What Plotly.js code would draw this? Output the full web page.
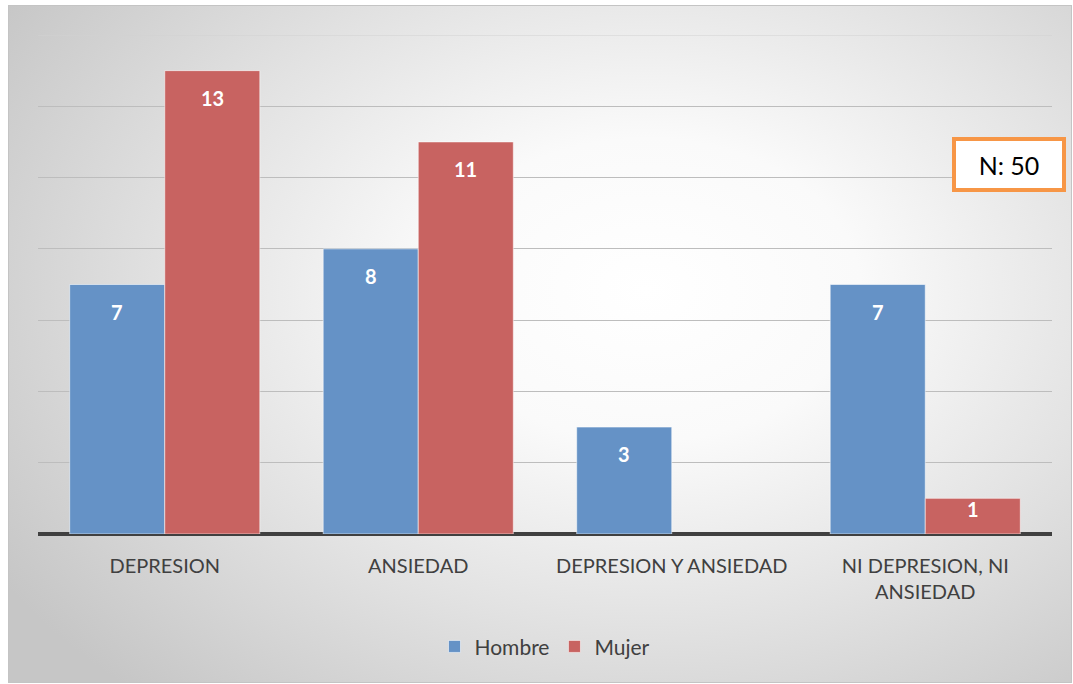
<!DOCTYPE html>
<html>
<head>
<meta charset="utf-8">
<script src="https://cdn.plot.ly/plotly-3.0.1.min.js"></script>
<style>
  html, body { margin: 0; padding: 0; background: #ffffff; width: 1073px; height: 684px; overflow: hidden; }
  #frame {
    position: absolute; left: 8px; top: 5px; width: 1062px; height: 676px;
    border: 1px solid #c4c4c4;
    background: radial-gradient(ellipse 72% 80% at 60% 42%, #ffffff 0%, #fafafa 28%, #e2e2e2 62%, #c6c6c6 100%);
  }
  #chart { position: absolute; left: 0; top: 0; width: 1073px; height: 684px; }
</style>
</head>
<body>
<div id="frame"></div>
<div id="chart"></div>
<script>
const categories = ["DEPRESION", "ANSIEDAD", "DEPRESION Y ANSIEDAD", "NI DEPRESION, NI<br>ANSIEDAD"];
const hombre = [7, 8, 3, 7];
const mujer = [13, 11, 0, 1];
const seriesNames = ["Hombre", "Mujer"];
const sampleNote = "N: 50";

const colors = ["rgb(101,146,198)", "rgb(200,99,97)"];
const series = [hombre, mujer];
const fontFam = "Lato, 'Liberation Sans', sans-serif";

const traces = series.map((vals, i) => ({
  type: "bar",
  name: seriesNames[i],
  x: categories,
  y: vals,
  marker: {
    color: colors[i],
    line: { color: "rgba(255,255,255,0.55)", width: vals.map(v => (v > 0 ? 1 : 0)) }
  },
  hoverinfo: "x+y+name"
}));

// data labels, placed inside the bar end
const plotH = 499, yMax = 14;
const pxPerUnit = plotH / yMax;
const annotations = [];
series.forEach((vals, i) => {
  vals.forEach((v, j) => {
    if (v > 0) {
      annotations.push({
        x: categories[j], y: v, xref: "x", yref: "y",
        text: "<b>" + v + "</b>",
        showarrow: false,
        xshift: i === 0 ? -47.5 : 47.5,
        yshift: -Math.min(27, 0.3 * v * pxPerUnit),
        font: { family: fontFam, size: 20, color: "#ffffff" }
      });
    }
  });
});
annotations.push({
  xref: "paper", yref: "paper", x: 0.9576, y: 0.7395,
  xanchor: "center", yanchor: "middle",
  text: sampleNote, showarrow: false,
  width: 106, height: 47,
  bgcolor: "#ffffff", bordercolor: "#F79646", borderwidth: 4, borderpad: 0,
  font: { family: fontFam, size: 25, color: "#000000" }
});

const layout = {
  width: 1073, height: 684,
  margin: { l: 38, r: 21, t: 35, b: 150 },
  paper_bgcolor: "rgba(0,0,0,0)",
  plot_bgcolor: "rgba(0,0,0,0)",
  barmode: "group",
  bargap: 0.25,
  bargroupgap: 0,
  xaxis: {
    type: "category",
    showgrid: false, showline: false, ticks: "",
    ticklabelstandoff: 18,
    tickfont: { family: fontFam, size: 20, color: "#404040" }
  },
  yaxis: {
    range: [0, yMax], dtick: 2, showticklabels: false, ticks: "",
    showgrid: true, gridcolor: "#bdbdbd", gridwidth: 1,
    zeroline: true, zerolinecolor: "#404040", zerolinewidth: 4,
    fixedrange: true
  },
  shapes: [{
    type: "line", xref: "paper", yref: "y", x0: 0, x1: 1, y0: yMax, y1: yMax,
    line: { color: "#d2d2d2", width: 1 }, layer: "below"
  }],
  showlegend: true,
  legend: {
    orientation: "h", x: 0.5, xanchor: "center", y: -0.226, yanchor: "middle",
    font: { family: fontFam, size: 21, color: "#404040" },
    bgcolor: "rgba(0,0,0,0)", itemwidth: 30, traceorder: "normal"
  },
  annotations: annotations
};

Plotly.newPlot("chart", traces, layout, { displayModeBar: false, staticPlot: true });
</script>
</body>
</html>
